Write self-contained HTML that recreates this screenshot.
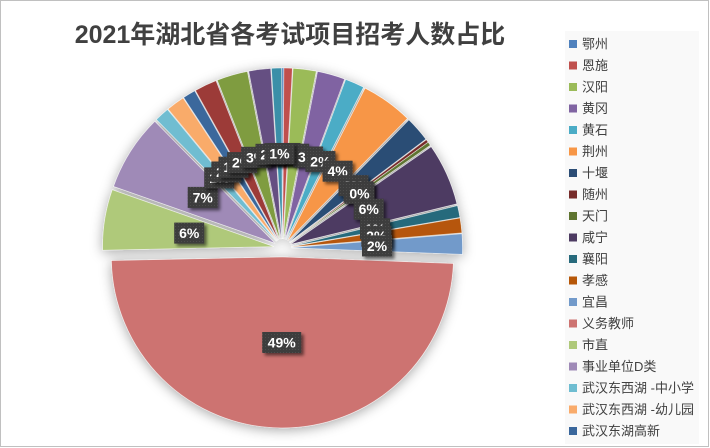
<!DOCTYPE html>
<html><head><meta charset="utf-8"><style>
html,body{margin:0;padding:0;background:#fff;}
body{width:710px;height:448px;overflow:hidden;}
svg{display:block;}
.t{font-family:"Liberation Sans","Noto Sans CJK SC",sans-serif;}
.lg{font-size:13px;fill:#404040;}
.lb{font-size:14px;font-weight:bold;fill:#fff;text-anchor:middle;}
</style></head><body>
<svg width="710" height="448" viewBox="0 0 710 448" xmlns="http://www.w3.org/2000/svg">
<defs>
<filter id="ps" x="-20%" y="-20%" width="140%" height="140%">
<feGaussianBlur in="SourceAlpha" stdDeviation="6"/>
<feOffset dx="0" dy="2" result="b"/>
<feFlood flood-color="#000" flood-opacity="0.35"/>
<feComposite in2="b" operator="in"/>
<feMerge><feMergeNode/><feMergeNode in="SourceGraphic"/></feMerge>
</filter>
<filter id="ls" x="-30%" y="-30%" width="160%" height="160%">
<feDropShadow dx="2.5" dy="2.5" stdDeviation="1.5" flood-color="#000" flood-opacity="0.55"/>
</filter>
<pattern id="dots" width="3" height="3" patternUnits="userSpaceOnUse">
<rect width="3" height="3" fill="#3c3c3c"/>
<rect x="1" y="1" width="1" height="1" fill="#4d4d4d"/>
</pattern>
</defs>
<rect x="0.5" y="0.5" width="708" height="446" fill="#fff" stroke="#c0c0c0" stroke-width="1"/>
<text class="t" x="290" y="43" font-size="25" font-weight="bold" fill="#404040" text-anchor="middle">2021年湖北省各考试项目招考人数占比</text>

<g filter="url(#ps)" stroke="#ffffff" stroke-opacity="0.6" stroke-width="0.6">
<path fill="#4F81BD" d="M282.52,239.0 L281.92,68.0 A171,171 0 0 1 283.71,68.0 Z"/>
<path fill="#C0504D" d="M282.78,239.0 L283.97,68.0 A171,171 0 0 1 292.33,68.27 Z"/>
<path fill="#9BBB59" d="M283.61,239.07 L293.16,68.34 A171,171 0 0 1 316.24,71.21 Z"/>
<path fill="#8064A2" d="M284.94,239.34 L317.57,71.48 A171,171 0 0 1 344.55,79.07 Z"/>
<path fill="#4BACC6" d="M286.11,239.76 L345.72,79.49 A171,171 0 0 1 363.48,87.26 Z"/>
<path fill="#F79646" d="M287.75,240.69 L365.12,88.19 A171,171 0 0 1 407.39,118.52 Z"/>
<path fill="#2C4D75" d="M289.26,242.06 L408.90,119.89 A171,171 0 0 1 425.83,139.15 Z"/>
<path fill="#772C2A" d="M289.74,242.65 L426.31,139.74 A171,171 0 0 1 428.08,142.14 Z"/>
<path fill="#5F7530" d="M289.84,242.79 L428.18,142.28 A171,171 0 0 1 430.26,145.20 Z"/>
<path fill="#4D3B62" d="M290.71,244.30 L431.13,146.71 A171,171 0 0 1 456.85,203.80 Z"/>
<path fill="#276A7C" d="M291.31,246.18 L457.45,205.68 A171,171 0 0 1 459.86,217.37 Z"/>
<path fill="#B65708" d="M291.43,246.87 L459.98,218.06 A171,171 0 0 1 461.86,232.86 Z"/>
<path fill="#729ACA" d="M291.50,247.80 L461.93,233.79 A171,171 0 0 1 462.37,254.36 Z"/>
<path fill="#CD7371" d="M282.42,257.0 L453.29,263.56 A171,171 0 0 1 111.46,260.58 Z"/>
<path fill="#AFC97A" d="M273.61,246.58 L102.65,250.16 A171,171 0 0 1 112.32,189.78 Z"/>
<path fill="#9F8AB7" d="M274.90,243.18 L113.61,186.38 A171,171 0 0 1 154.83,121.42 Z"/>
<path fill="#6FBDD1" d="M276.47,241.32 L156.40,119.56 A171,171 0 0 1 167.47,109.56 Z"/>
<path fill="#F9AB6B" d="M277.15,240.77 L168.15,109.01 A171,171 0 0 1 183.02,98.01 Z"/>
<path fill="#3A679C" d="M277.83,240.31 L183.70,97.55 A171,171 0 0 1 194.67,90.89 Z"/>
<path fill="#9C3B37" d="M278.65,239.86 L195.49,90.44 A171,171 0 0 1 215.98,80.76 Z"/>
<path fill="#7F9C41" d="M279.98,239.36 L217.31,80.26 A171,171 0 0 1 247.35,71.50 Z"/>
<path fill="#654F82" d="M281.36,239.07 L248.73,71.21 A171,171 0 0 1 270.62,68.41 Z"/>
<path fill="#3B8FA8" d="M282.20,239.0 L271.46,68.34 A171,171 0 0 1 281.60,68.0 Z"/>
</g>

<g class="t">
<g filter="url(#ls)"><rect x="267.7" y="143" width="30" height="21" fill="url(#dots)"/><text class="lb" x="282.7" y="158.5">0%</text></g>
<g filter="url(#ls)"><rect x="270.5" y="143" width="30" height="21" fill="url(#dots)"/><text class="lb" x="285.5" y="158.5">1%</text></g>
<g filter="url(#ls)"><rect x="279.2" y="143.7" width="30" height="21" fill="url(#dots)"/><text class="lb" x="294.2" y="159.2">2%</text></g>
<g filter="url(#ls)"><rect x="293.1" y="146.5" width="30" height="21" fill="url(#dots)"/><text class="lb" x="308.1" y="162">3%</text></g>
<g filter="url(#ls)"><rect x="305.4" y="150.9" width="30" height="21" fill="url(#dots)"/><text class="lb" x="320.4" y="166.4">2%</text></g>
<g filter="url(#ls)"><rect x="322.6" y="160.7" width="30" height="21" fill="url(#dots)"/><text class="lb" x="337.6" y="176.2">4%</text></g>
<g filter="url(#ls)"><rect x="338.5" y="175.1" width="30" height="21" fill="url(#dots)"/><text class="lb" x="353.5" y="190.6">2%</text></g>
<g filter="url(#ls)"><rect x="343.5" y="181.3" width="30" height="21" fill="url(#dots)"/><text class="lb" x="358.5" y="196.8">0%</text></g>
<g filter="url(#ls)"><rect x="344.5" y="182.8" width="30" height="21" fill="url(#dots)"/><text class="lb" x="359.5" y="198.3">0%</text></g>
<g filter="url(#ls)"><rect x="353.7" y="198.7" width="30" height="21" fill="url(#dots)"/><text class="lb" x="368.7" y="214.2">6%</text></g>
<g filter="url(#ls)"><rect x="360" y="218.3" width="30" height="21" fill="url(#dots)"/><text class="lb" x="375" y="233.8">1%</text></g>
<g filter="url(#ls)"><rect x="361.3" y="225.7" width="30" height="21" fill="url(#dots)"/><text class="lb" x="376.3" y="241.2">2%</text></g>
<g filter="url(#ls)"><rect x="362" y="235.4" width="30" height="21" fill="url(#dots)"/><text class="lb" x="377" y="250.9">2%</text></g>
<g filter="url(#ls)"><rect x="262.2" y="332" width="39" height="21" fill="url(#dots)"/><text class="lb" x="281.7" y="347.5">49%</text></g>
<g filter="url(#ls)"><rect x="174.2" y="222.6" width="30" height="21" fill="url(#dots)"/><text class="lb" x="189.2" y="238.1">6%</text></g>
<g filter="url(#ls)"><rect x="187.7" y="186.9" width="30" height="21" fill="url(#dots)"/><text class="lb" x="202.7" y="202.4">7%</text></g>
<g filter="url(#ls)"><rect x="204.2" y="167.4" width="30" height="21" fill="url(#dots)"/><text class="lb" x="219.2" y="182.9">1%</text></g>
<g filter="url(#ls)"><rect x="211.3" y="161.5" width="30" height="21" fill="url(#dots)"/><text class="lb" x="226.3" y="177">2%</text></g>
<g filter="url(#ls)"><rect x="218.5" y="156.7" width="30" height="21" fill="url(#dots)"/><text class="lb" x="233.5" y="172.2">1%</text></g>
<g filter="url(#ls)"><rect x="227.1" y="152.1" width="30" height="21" fill="url(#dots)"/><text class="lb" x="242.1" y="167.6">2%</text></g>
<g filter="url(#ls)"><rect x="241.1" y="146.8" width="30" height="21" fill="url(#dots)"/><text class="lb" x="256.1" y="162.3">3%</text></g>
<g filter="url(#ls)"><rect x="255.5" y="143.8" width="30" height="21" fill="url(#dots)"/><text class="lb" x="270.5" y="159.3">2%</text></g>
<g filter="url(#ls)"><rect x="264.4" y="143.1" width="30" height="21" fill="url(#dots)"/><text class="lb" x="279.4" y="158.6">1%</text></g>
</g>

<rect x="565" y="31" width="134" height="413" fill="#f9f9f9"/>
<g class="t">
<rect x="569" y="40" width="8" height="8" fill="#4F81BD"/><text class="lg" x="582" y="48.5">鄂州</text>
<rect x="569" y="61.5" width="8" height="8" fill="#C0504D"/><text class="lg" x="582" y="70">恩施</text>
<rect x="569" y="83" width="8" height="8" fill="#9BBB59"/><text class="lg" x="582" y="91.5">汉阳</text>
<rect x="569" y="104.5" width="8" height="8" fill="#8064A2"/><text class="lg" x="582" y="113">黄冈</text>
<rect x="569" y="126" width="8" height="8" fill="#4BACC6"/><text class="lg" x="582" y="134.5">黄石</text>
<rect x="569" y="147.5" width="8" height="8" fill="#F79646"/><text class="lg" x="582" y="156">荆州</text>
<rect x="569" y="169" width="8" height="8" fill="#2C4D75"/><text class="lg" x="582" y="177.5">十堰</text>
<rect x="569" y="190.5" width="8" height="8" fill="#772C2A"/><text class="lg" x="582" y="199">随州</text>
<rect x="569" y="212" width="8" height="8" fill="#5F7530"/><text class="lg" x="582" y="220.5">天门</text>
<rect x="569" y="233.5" width="8" height="8" fill="#4D3B62"/><text class="lg" x="582" y="242">咸宁</text>
<rect x="569" y="255" width="8" height="8" fill="#276A7C"/><text class="lg" x="582" y="263.5">襄阳</text>
<rect x="569" y="276.5" width="8" height="8" fill="#B65708"/><text class="lg" x="582" y="285">孝感</text>
<rect x="569" y="298" width="8" height="8" fill="#729ACA"/><text class="lg" x="582" y="306.5">宜昌</text>
<rect x="569" y="319.5" width="8" height="8" fill="#CD7371"/><text class="lg" x="582" y="328">义务教师</text>
<rect x="569" y="341" width="8" height="8" fill="#AFC97A"/><text class="lg" x="582" y="349.5">市直</text>
<rect x="569" y="362.5" width="8" height="8" fill="#9F8AB7"/><text class="lg" x="582" y="371">事业单位D类</text>
<rect x="569" y="384" width="8" height="8" fill="#6FBDD1"/><text class="lg" x="582" y="392.5">武汉东西湖 -中小学</text>
<rect x="569" y="405.5" width="8" height="8" fill="#F9AB6B"/><text class="lg" x="582" y="414">武汉东西湖 -幼儿园</text>
<rect x="569" y="427" width="8" height="8" fill="#3A679C"/><text class="lg" x="582" y="435.5">武汉东湖高新</text>
</g>
</svg>
</body></html>
